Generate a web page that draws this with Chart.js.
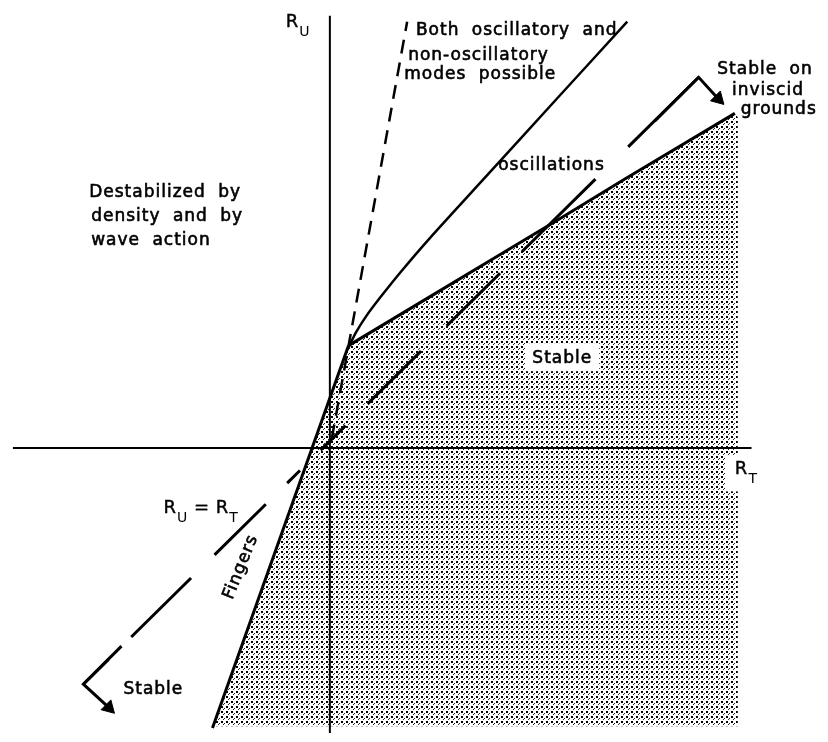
<!DOCTYPE html>
<html>
<head>
<meta charset="utf-8">
<script src="https://cdn.jsdelivr.net/npm/chart.js@4.4.1/dist/chart.umd.min.js"></script>
<style>
  html, body { margin: 0; padding: 0; background: #fff; }
  #wrap { width: 828px; height: 742px; position: relative; }
</style>
</head>
<body>
<div id="wrap"><canvas id="canvas"></canvas></div>
<script>
// R_T across, R_U up (arbitrary units, origin where the axes cross)
const axisRT = [[-32.4, 0], [43.1, 0]];
const axisRU = [[0, 44.3], [0, -29.2]];
const fingersLine = [[-12.0, -28.7], [1.9, 10.5]];
const stableEdge = [[1.9, 10.5], [10.2, 15.5], [17.5, 19.9], [23.5, 23.5], [30.2, 27.6], [41.4, 34.3]];
const shadedRegion = [[-12.0, -28.5], [1.9, 10.5], [10.2, 15.5], [17.5, 19.9], [23.5, 23.5], [30.2, 27.6], [41.4, 34.3], [41.7, 33.9], [41.7, -28.5]];
const oscCurve = [[1.9, 10.3], [2.7, 11.9], [3.7, 13.5], [5.2, 15.5], [7.2, 18.0], [10.2, 21.5], [16.2, 28.1], [23.2, 35.8], [30.4, 43.7]];
const modesLine = [[0.2, 1.0], [7.9, 43.7]];
const equalLine = [[37.7, 38.0], [-25.2, -24.2]];
const arrowTop = [[33.2, 33.5], [37.7, 38.0], [39.6, 35.9]];
const arrowBottom = [[-21.3, -20.3], [-25.2, -24.2], [-22.7, -26.5]];
const arrowTips = [[39.7, 35.8], [-22.6, -26.6]];

const pts = a => a.map(p => ({ x: p[0], y: p[1] }));

// dotted stipple for the stable region
function stipple() {
  const c = document.createElement("canvas");
  c.width = 5; c.height = 5;
  const g = c.getContext("2d");
  g.fillStyle = "#000";
  g.fillRect(1, 1, 2, 2);
  g.fillStyle = "#222";
  g.fillRect(3, 4, 1, 1);
  g.fillRect(4, 3, 1, 1);
  return g.createPattern(c, "repeat");
}

const FONT = "17px 'DejaVu Sans'";
const labels = [
  { t: "Both oscillatory and", x: 8.8, y: 42.3 },
  { t: "non-oscillatory", x: 8.0, y: 39.8 },
  { t: "modes possible", x: 7.6, y: 37.8 },
  { t: "oscillations", x: 17.2, y: 28.5 },
  { t: "Stable", x: 20.7, y: 8.7, bg: true },
  { t: "Stable on", x: 39.6, y: 38.3 },
  { t: "inviscid", x: 41.1, y: 36.2 },
  { t: "grounds", x: 42.0, y: 34.2 },
  { t: "Destabilized by", x: -24.6, y: 25.7 },
  { t: "density and by", x: -24.4, y: 23.3 },
  { t: "wave action", x: -24.4, y: 20.8 },
  { t: "Stable", x: -21.1, y: -25.2 },
  { t: "Fingers", x: -9.1, y: -12.2, rot: -68, center: true }
];
// symbols with subscripts
const symbols = [
  { parts: [["R", "U"]], x: -4.5, y: 43.2 },
  { parts: [["R", "T"]], x: 41.4, y: -2.7, bg: true },
  { parts: [["R", "U"], [" = ", ""], ["R", "T"]], x: -17.0, y: -6.7 }
];

const textPlugin = {
  id: "texts",
  afterDatasetsDraw(chart) {
    const ctx = chart.ctx;
    const xs = chart.scales.x, ys = chart.scales.y;
    ctx.save();
    ctx.fillStyle = "#000";
    ctx.strokeStyle = "#000";
    ctx.lineWidth = 0.6;
    ctx.textBaseline = "alphabetic";
    labels.forEach(l => {
      const px = xs.getPixelForValue(l.x), py = ys.getPixelForValue(l.y);
      ctx.font = FONT;
      ctx.letterSpacing = "1px";
      ctx.wordSpacing = "6px";
      const w = ctx.measureText(l.t).width;
      if (l.bg) {
        ctx.fillStyle = "#fff";
        ctx.fillRect(px - 7, py - 20, w + 14, 28);
        ctx.fillStyle = "#000";
      }
      if (l.rot) {
        ctx.save();
        ctx.translate(px, py);
        ctx.rotate(l.rot * Math.PI / 180);
        ctx.textAlign = "center";
        ctx.textBaseline = "middle";
        ctx.fillText(l.t, 0, 0);
        ctx.strokeText(l.t, 0, 0);
        ctx.restore();
      } else {
        ctx.textAlign = "left";
        ctx.fillText(l.t, px, py);
        ctx.strokeText(l.t, px, py);
      }
    });
    ctx.letterSpacing = "0px";
    ctx.wordSpacing = "0px";
    ctx.lineWidth = 0.4;
    symbols.forEach(s => {
      let px = xs.getPixelForValue(s.x);
      const py = ys.getPixelForValue(s.y);
      if (s.bg) {
        ctx.fillStyle = "#fff";
        ctx.fillRect(px - 9, py - 19, 36, 36);
        ctx.fillStyle = "#000";
      }
      s.parts.forEach(p => {
        ctx.font = "18px 'DejaVu Sans'";
        ctx.fillText(p[0], px, py);
        ctx.strokeText(p[0], px, py);
        px += ctx.measureText(p[0]).width + 1;
        if (p[1]) {
          ctx.font = "14px 'DejaVu Sans'";
          ctx.fillText(p[1], px, py + 9);
          px += ctx.measureText(p[1]).width + 1;
        }
      });
    });
    ctx.restore();
  }
};

const line = (data, extra) => Object.assign({
  data: pts(data), showLine: true, pointRadius: 0, borderColor: "#000",
  borderWidth: 3, fill: false, tension: 0
}, extra);

new Chart("canvas", {
  type: "scatter",
  data: {
    datasets: [
      line(arrowTop, { borderWidth: 3 }),
      line(arrowBottom, { borderWidth: 3 }),
      {
        data: pts(arrowTips), showLine: false, pointStyle: "triangle",
        pointRadius: 8, rotation: 135, backgroundColor: "#000", borderColor: "#000", borderWidth: 1
      },
      line(equalLine, { borderWidth: 3, borderDash: [99, 46, 103, 31, 75, 36, 75, 31, 35, 29, 18, 30, 72, 33, 84, 32, 60] }),
      line(modesLine, { borderWidth: 2.5, borderDash: [14, 9] }),
      line(oscCurve, { borderWidth: 2.5, tension: 0.3 }),
      line(stableEdge, { borderWidth: 3 }),
      line(fingersLine, { borderWidth: 3 }),
      line(axisRT, { borderWidth: 2 }),
      line(axisRU, { borderWidth: 2 }),
      {
        data: pts(shadedRegion), showLine: true, pointRadius: 0, borderWidth: 0,
        borderColor: "rgba(0,0,0,0)", backgroundColor: stipple(), fill: "shape"
      }
    ]
  },
  options: {
    responsive: true,
    maintainAspectRatio: false,
    animation: false,
    layout: { padding: 0 },
    scales: {
      x: { type: "linear", min: -32.8, max: 50, display: false },
      y: { type: "linear", min: -29.2, max: 45, display: false }
    },
    plugins: { legend: { display: false }, tooltip: { enabled: false } }
  },
  plugins: [textPlugin]
});
</script>
</body>
</html>
